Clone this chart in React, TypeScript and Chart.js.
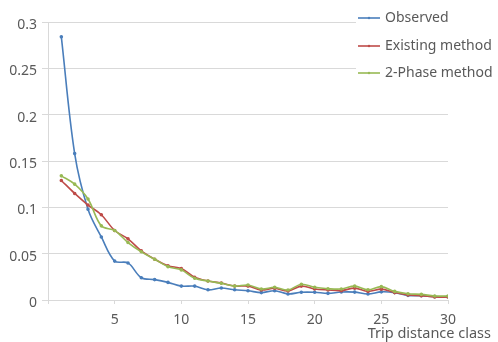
import React, { useEffect, useRef } from "react";
import { Chart, registerables } from "chart.js";

Chart.register(...registerables);

const categories = [1, 2, 3, 4, 5, 6, 7, 8, 9, 10, 11, 12, 13, 14, 15, 16, 17, 18, 19, 20, 21, 22, 23, 24, 25, 26, 27, 28, 29, 30];
const observed = [0.284, 0.158, 0.098, 0.068, 0.042, 0.040, 0.024, 0.022, 0.019, 0.015, 0.015, 0.011, 0.013, 0.011, 0.010, 0.008, 0.010, 0.0065, 0.0083, 0.0083, 0.0072, 0.0086, 0.0085, 0.0065, 0.0088, 0.008, 0.005, 0.0047, 0.0036, 0.0036];
const existing = [0.129, 0.115, 0.1025, 0.092, 0.075, 0.066, 0.053, 0.044, 0.037, 0.034, 0.0245, 0.0205, 0.0183, 0.015, 0.015, 0.0108, 0.0127, 0.0097, 0.015, 0.0119, 0.0108, 0.0101, 0.0128, 0.0093, 0.0117, 0.008, 0.0054, 0.0047, 0.0032, 0.0032];
const twoPhase = [0.134, 0.125, 0.109, 0.080, 0.075, 0.062, 0.052, 0.044, 0.036, 0.0325, 0.0234, 0.0205, 0.018, 0.015, 0.0162, 0.0119, 0.0137, 0.0108, 0.017, 0.0137, 0.0122, 0.0119, 0.015, 0.011, 0.0144, 0.0093, 0.0068, 0.0061, 0.0043, 0.0043];
const seriesNames = ["Observed", "Existing method", "2-Phase method"];
const seriesColors = ["#4A7EBB", "#BE4B48", "#98B954"];
const xTitle = "Trip distance class";

const FONT = "'Noto Sans', sans-serif";
const TEXT = "#595959";
const GRID = "#d9d9d9";

const overlayPlugin = {
  id: "overlay",
  afterDraw(chart: any) {
    const ctx = chart.ctx;
    const area = chart.chartArea;
    ctx.save();
    const lx = area.right - 90;
    ctx.fillStyle = "#ffffff";
    ctx.fillRect(lx - 2, 4, chart.width - lx, 82);
    const rows = [18, 46, 73];
    seriesNames.forEach((name, i) => {
      const y = rows[i];
      ctx.strokeStyle = seriesColors[i];
      ctx.lineWidth = 1.6;
      ctx.beginPath();
      ctx.moveTo(lx, y);
      ctx.lineTo(lx + 22, y);
      ctx.stroke();
      ctx.fillStyle = seriesColors[i];
      ctx.beginPath();
      ctx.arc(lx + 11, y, 1.2, 0, Math.PI * 2);
      ctx.fill();
      ctx.fillStyle = TEXT;
      ctx.font = "14px " + FONT;
      ctx.textAlign = "left";
      ctx.textBaseline = "middle";
      ctx.fillText(name, lx + 27, y);
    });
    ctx.fillStyle = TEXT;
    ctx.font = "14.5px " + FONT;
    ctx.textAlign = "right";
    ctx.textBaseline = "middle";
    ctx.fillText(xTitle, chart.width - 7, 334);
    ctx.restore();
  },
};

export default function App() {
  const ref = useRef<HTMLCanvasElement>(null);
  useEffect(() => {
    document.body.style.margin = "0";
    const seriesValues = [observed, existing, twoPhase];
    const chart = new Chart(ref.current as HTMLCanvasElement, {
      type: "line",
      data: {
        datasets: seriesValues.map((vals, i) => ({
          label: seriesNames[i],
          data: categories.map((c, j) => ({ x: c, y: vals[j] })),
          borderColor: seriesColors[i],
          backgroundColor: seriesColors[i],
          borderWidth: 1.6,
          pointRadius: 1,
          pointHoverRadius: 1,
          tension: 0.35,
          fill: false,
          order: 2 - i,
        })),
      },
      options: {
        animation: false,
        responsive: false,
        maintainAspectRatio: false,
        layout: { padding: { top: 22, right: 50, left: 0, bottom: 0 } },
        plugins: { legend: { display: false }, tooltip: { enabled: false } },
        scales: {
          x: {
            type: "linear",
            min: 0,
            max: 30,
            afterFit: (s: any) => {
              s.height = 42;
            },
            ticks: {
              stepSize: 5,
              color: TEXT,
              font: { family: FONT, size: 14 },
              padding: 8,
              maxRotation: 0,
              callback: (v: any) => (v === 0 ? "" : String(v)),
            },
            grid: { drawOnChartArea: false, drawTicks: true, tickLength: 4, color: GRID },
            border: { color: GRID },
          },
          y: {
            min: 0,
            max: 0.3,
            afterFit: (s: any) => {
              s.width = 48;
            },
            ticks: {
              stepSize: 0.05,
              color: TEXT,
              font: { family: FONT, size: 14 },
              padding: 5,
              labelOffset: 3,
              callback: (v: any) => String(Number(Number(v).toFixed(2))),
            },
            grid: { color: GRID, tickLength: 6 },
            border: { color: GRID },
          },
        },
      },
      plugins: [overlayPlugin],
    });
    return () => chart.destroy();
  }, []);
  return (
    <div style={{ width: 498, height: 342 }}>
      <canvas ref={ref} width={498} height={342} style={{ display: "block" }} />
    </div>
  );
}
